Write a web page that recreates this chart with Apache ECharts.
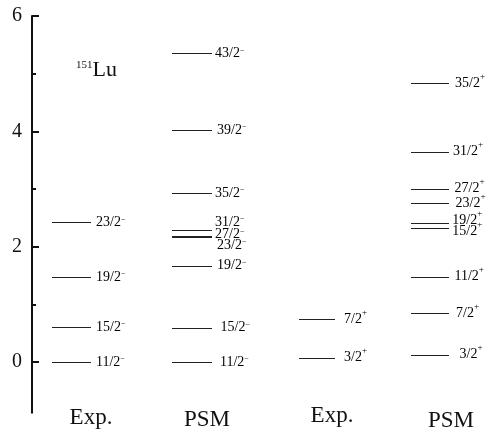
<!DOCTYPE html>
<html>
<head>
<meta charset="utf-8">
<script src="https://cdn.jsdelivr.net/npm/echarts@6/dist/echarts.min.js"></script>
<style>
html,body{margin:0;padding:0;background:#fff;}
#c{width:491px;height:432px;}
</style>
</head>
<body>
<div id="c"></div>
<script>
// ---- data ----
const columnNames = ['Exp.', 'PSM', 'Exp.', 'PSM'];
const yTickValues = [0, 2, 4, 6];
const yMinorTickValues = [1, 3, 5];

const expNegSpins = ['11/2', '15/2', '19/2', '23/2'];
const expNegEnergy = [0, 0.61, 1.47, 2.42];

const psmNegSpins = ['11/2', '15/2', '19/2', '23/2', '27/2', '31/2', '35/2', '39/2', '43/2'];
const psmNegEnergy = [0, 0.595, 1.67, 2.17, 2.19, 2.29, 2.93, 4.02, 5.35];

const expPosSpins = ['3/2', '7/2'];
const expPosEnergy = [0.075, 0.74];

const psmPosSpins = ['3/2', '7/2', '11/2', '15/2', '19/2', '23/2', '27/2', '31/2', '35/2'];
const psmPosEnergy = [0.13, 0.845, 1.48, 2.32, 2.415, 2.75, 3.005, 3.65, 4.83];

const nucleusMass = '151';
const nucleusName = 'Lu';

// ---- layout (style only) ----
const SERIF = '"Liberation Serif", "Times New Roman", serif';
const colLayout = [
  { x0: 20, x1: 59, dx: [5, 5, 5, 5], dy: [0, 0, 0, 0], sign: '−' },
  { x0: 140, x1: 180, dx: [8, 8.5, 5, 5, 3, 3, 3, 5, 3], dy: [0, 0, 0, 8.5, -1, -8, 0, 0, 0], sign: '−' },
  { x0: 267, x1: 303, dx: [9, 9], dy: [0, 0], sign: '+' },
  { x0: 379, x1: 417, dx: [10.5, 7, 5.5, 3.3, 3.3, 6.5, 5.5, 4, 6], dy: [0, 0, 0, 3, -2, 0, 0, 0, 0], sign: '+' }
];
const colLabelLayout = { x: [59, 175, 300, 419], dy: [5.6, 7.3, 2.8, 8.3] };
const Y_MIN = -0.88, Y_MAX = 6;

const richLevel = {
  n: { fontFamily: SERIF, fontSize: 14, lineHeight: 14, color: '#222' },
  m: { fontFamily: SERIF, fontSize: 8, lineHeight: 8, color: '#222', padding: [0, 0, 6, 0] },
  p: { fontFamily: SERIF, fontSize: 9, lineHeight: 9, color: '#222', padding: [0, 0, 14, 0] }
};

function levelSeries(col, spins, energies) {
  const L = colLayout[col];
  return {
    type: 'custom',
    coordinateSystem: 'cartesian2d',
    data: energies.map(e => [e]),
    encode: { y: 0 },
    silent: true,
    renderItem: function (params, api) {
      const i = params.dataIndex;
      const e = api.value(0);
      const p0 = api.coord([L.x0, e]);
      const p1 = api.coord([L.x1, e]);
      const yLine = Math.round(p0[1]) + 0.5;
      const tag = L.sign === '+' ? 'p' : 'm';
      return {
        type: 'group',
        children: [
          { type: 'line', shape: { x1: p0[0], y1: yLine, x2: p1[0], y2: yLine },
            style: { stroke: '#222', lineWidth: 1 } },
          { type: 'text', x: p1[0] + L.dx[i], y: p1[1] + L.dy[i],
            style: { text: '{n|' + spins[i] + '}{' + tag + '|' + L.sign + '}', rich: richLevel,
                     align: 'left', verticalAlign: 'middle' } }
        ]
      };
    }
  };
}

const colLabelSeries = {
  type: 'custom',
  coordinateSystem: 'cartesian2d',
  data: columnNames.map((n, i) => [i]),
  silent: true,
  renderItem: function (params, api) {
    const i = params.dataIndex;
    const p = api.coord([colLabelLayout.x[i], Y_MIN]);
    return {
      type: 'text', x: p[0], y: p[1] + colLabelLayout.dy[i],
      style: { text: columnNames[i], fontFamily: SERIF, fontSize: 23, fill: '#111',
               align: 'center', verticalAlign: 'middle' }
    };
  }
};

const chart = echarts.init(document.getElementById('c'), null, { renderer: 'canvas' });
chart.setOption({
  backgroundColor: '#fff',
  animation: false,
  title: {
    left: 76, top: 59, padding: 0,
    text: '{a|' + nucleusMass + '}{b|' + nucleusName + '}',
    textStyle: {
      fontWeight: 'normal',
      rich: {
        a: { fontFamily: SERIF, fontWeight: 'normal', fontSize: 11, lineHeight: 11, color: '#111', padding: [0, 0, 9, 0] },
        b: { fontFamily: SERIF, fontWeight: 'normal', fontSize: 22, lineHeight: 22, color: '#111' }
      }
    }
  },
  grid: { left: 32, top: 16, right: 0, bottom: 432 - 16 - (Y_MAX - Y_MIN) * 57.67 },
  xAxis: { type: 'value', min: 0, max: 459, show: false },
  yAxis: [
    {
      type: 'value', min: Y_MIN, max: Y_MAX, position: 'left',
      axisLine: { show: true, lineStyle: { color: '#111', width: 2 } },
      axisTick: { show: true, inside: true, length: 7, customValues: yTickValues,
                  lineStyle: { color: '#111', width: 2 } },
      axisLabel: { show: true, margin: 10, customValues: yTickValues,
                   fontFamily: SERIF, fontSize: 20, color: '#111' },
      splitLine: { show: false }
    },
    {
      type: 'value', min: Y_MIN, max: Y_MAX, position: 'left', offset: 0,
      axisLine: { show: false },
      axisTick: { show: true, inside: true, length: 4, customValues: yMinorTickValues,
                  lineStyle: { color: '#111', width: 2 } },
      axisLabel: { show: false },
      splitLine: { show: false }
    }
  ],
  series: [
    levelSeries(0, expNegSpins, expNegEnergy),
    levelSeries(1, psmNegSpins, psmNegEnergy),
    levelSeries(2, expPosSpins, expPosEnergy),
    levelSeries(3, psmPosSpins, psmPosEnergy),
    colLabelSeries
  ]
});
</script>
</body>
</html>
